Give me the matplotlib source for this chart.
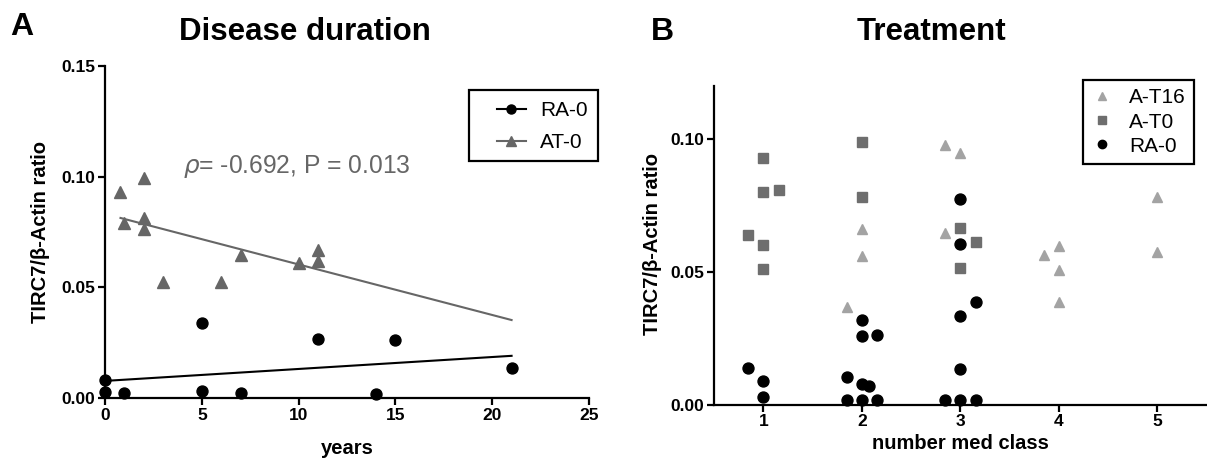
import matplotlib
matplotlib.use("Agg")
from matplotlib import pyplot as plt
from matplotlib.lines import Line2D
from matplotlib.patches import Rectangle
import numpy as np

plt.rcParams["font.family"] = ["Liberation Sans", "DejaVu Sans"]
plt.rcParams["mathtext.fontset"] = "dejavusans"

# panel A: disease duration (years) vs ratio
ra_years = [0, 0, 1, 5, 5, 7, 11, 14, 15, 21]
ra_ratio = [0.0081, 0.0026, 0.0021, 0.0337, 0.0033, 0.0021, 0.0265, 0.0018, 0.026, 0.0136]
at_years = [0.8, 1, 2, 2, 2, 3, 6, 7, 10, 11, 11]
at_ratio = [0.0932, 0.0789, 0.0993, 0.0812, 0.0762, 0.0523, 0.0523, 0.0645, 0.0609, 0.0669, 0.0619]
rho_text = r"$\rho$= -0.692, P = 0.013"

# panel B: number of med classes vs ratio (slot = jitter column inside a class)
t16_cls = [2, 2, 2, 3, 3, 3, 4, 4, 4, 4, 5, 5]
t16_slot = [-1, 0, 0, -1, 0, -1, -1, 0, 0, 0, 0, 0]
t16_ratio = [0.0367, 0.0663, 0.056, 0.0979, 0.095, 0.0648, 0.0566, 0.0597, 0.0509, 0.0387, 0.0782, 0.0575]

t0_cls = [1, 1, 1, 1, 1, 1, 2, 2, 3, 3, 3]
t0_slot = [-1, 0, 0, 1, 0, 0, 0, 0, 0, 1, 0]
t0_ratio = [0.0639, 0.0928, 0.0803, 0.0811, 0.0601, 0.0513, 0.0991, 0.0784, 0.0667, 0.0614, 0.0516]

rab_cls = [1, 1, 1, 2, 2, 2, 2, 2, 2, 2, 2, 2, 3, 3, 3, 3, 3, 3, 3, 3]
rab_slot = [-1, 0, 0, -1, 0, 0, 1, 0, 0.5, -1, 0, 1, 0, 0, 1, 0, 0, -1, 0, 1]
rab_ratio = [0.0138, 0.0091, 0.0028, 0.0103, 0.0321, 0.0258, 0.0262, 0.0078, 0.0069,
             0.0019, 0.0016, 0.0016, 0.0777, 0.0606, 0.0387, 0.0333, 0.0136, 0.0019,
             0.0019, 0.0019]
med_classes = [1, 2, 3, 4, 5]

GRAY = "#666666"
LIGHT = "#a3a3a3"
MID = "#6e6e6e"
jit = 0.155
W, H = 1207, 461

fig = plt.figure(figsize=(12.07, 4.61), dpi=100)
axA = fig.add_axes([0.087, 0.1367, 0.401, 0.720])
axB = fig.add_axes([0.5916, 0.1221, 0.408, 0.6907])

for ax in (axA, axB):
    for s in ("top", "right"):
        ax.spines[s].set_visible(False)
    for s in ("left", "bottom"):
        ax.spines[s].set_linewidth(1.6)
    ax.tick_params(width=1.6, length=5, labelsize=12.5, pad=2)

# --- A ---
ra_fit = np.polyfit(ra_years, ra_ratio, 1)
at_fit = np.polyfit(at_years, at_ratio, 1)
x_end = max(ra_years + at_years)
xr = np.array([min(ra_years), x_end])
xa = np.array([min(at_years), x_end])
axA.plot(xr, np.polyval(ra_fit, xr), color="black", lw=1.5)
axA.plot(xa, np.polyval(at_fit, xa), color=GRAY, lw=1.5)
axA.plot(ra_years, ra_ratio, "o", color="black", ms=7.9, clip_on=False, zorder=3)
axA.plot(at_years, at_ratio, "^", color=GRAY, ms=8, clip_on=False, zorder=3)
axA.set_xlim(0, 25)
axA.set_ylim(0, 0.15)
axA.set_xticks([0, 5, 10, 15, 20, 25])
axA.set_yticks([0, 0.05, 0.10, 0.15])
axA.set_yticklabels(["0.00", "0.05", "0.10", "0.15"], fontweight="bold")
axA.set_xticklabels(["0", "5", "10", "15", "20", "25"], fontweight="bold")
axA.set_ylabel("TIRC7/β-Actin ratio", fontsize=14.5, fontweight="bold")
axA.set_xlabel("years", fontsize=14.5, fontweight="bold")
axA.yaxis.set_label_coords(-0.114, 0.5)
axA.xaxis.set_label_coords(0.5, -0.123)
axA.text(4.05, 0.1048, rho_text, fontsize=17.7, color=GRAY, ha="left", va="center")

hA = [Line2D([], [], color="black", marker="o", ms=6.5, lw=1.5),
      Line2D([], [], color=GRAY, marker="^", ms=6.5, lw=1.5)]
legA = axA.legend(hA, ["RA-0", "AT-0"], loc="upper right",
                  bbox_to_anchor=(588 / W, 1 - 101 / H), bbox_transform=fig.transFigure,
                  fontsize=15, frameon=False, handlelength=1.4,
                  handletextpad=0.7, labelspacing=0.62, borderpad=0, borderaxespad=0)
# legend box, wider on the left than the default frame
fig.patches.append(Rectangle((469 / W, 1 - 161 / H), 129 / W, 71 / H, transform=fig.transFigure,
                             fill=False, edgecolor="black", lw=1.6))

# --- B ---
axB.plot(np.array(t16_cls) + jit * np.array(t16_slot), t16_ratio, "^", color=LIGHT,
         ms=7.8, clip_on=False, zorder=3)
axB.plot(np.array(t0_cls) + jit * np.array(t0_slot), t0_ratio, "s", color=MID,
         ms=7.2, clip_on=False, zorder=3)
axB.plot(np.array(rab_cls) + jit * np.array(rab_slot), rab_ratio, "o", color="black",
         ms=7.9, clip_on=False, zorder=3)
axB.set_xlim(0.5, 5.5)
axB.set_ylim(0, 0.12)
axB.set_xticks(med_classes)
axB.set_xticklabels([str(c) for c in med_classes], fontweight="bold")
axB.set_yticks([0, 0.05, 0.10])
axB.set_yticklabels(["0.00", "0.05", "0.10"], fontweight="bold")
axB.set_ylabel("TIRC7/β-Actin ratio", fontsize=14.5, fontweight="bold")
axB.set_xlabel("number med class", fontsize=14.5, fontweight="bold")
axB.yaxis.set_label_coords(-0.106, 0.505)
axB.xaxis.set_label_coords(0.5, -0.093)

hB = [Line2D([], [], color=LIGHT, marker="^", ms=6, lw=0),
      Line2D([], [], color=MID, marker="s", ms=6, lw=0),
      Line2D([], [], color="black", marker="o", ms=6, lw=0)]
legB = axB.legend(hB, ["A-T16", "A-T0", "RA-0"], loc="upper right",
                  bbox_to_anchor=(1194 / W, 1 - 80 / H), bbox_transform=fig.transFigure,
                  fontsize=15, frameon=True, fancybox=False, framealpha=1,
                  edgecolor="black", borderpad=0.4, handlelength=1.0,
                  handletextpad=0.8, labelspacing=0.25, borderaxespad=0)
legB.get_frame().set_linewidth(1.6)

# titles and panel letters
fig.text(305 / W, 1 - 32 / H, "Disease duration", fontsize=22.5, fontweight="bold",
         ha="center", va="center")
fig.text(931 / W, 1 - 32 / H, "Treatment", fontsize=22.5, fontweight="bold",
         ha="center", va="center")
fig.text(22 / W, 1 - 27 / H, "A", fontsize=23, fontweight="bold", ha="center", va="center")
fig.text(662 / W, 1 - 32 / H, "B", fontsize=23, fontweight="bold", ha="center", va="center")

fig.savefig("out.png", dpi=100)
